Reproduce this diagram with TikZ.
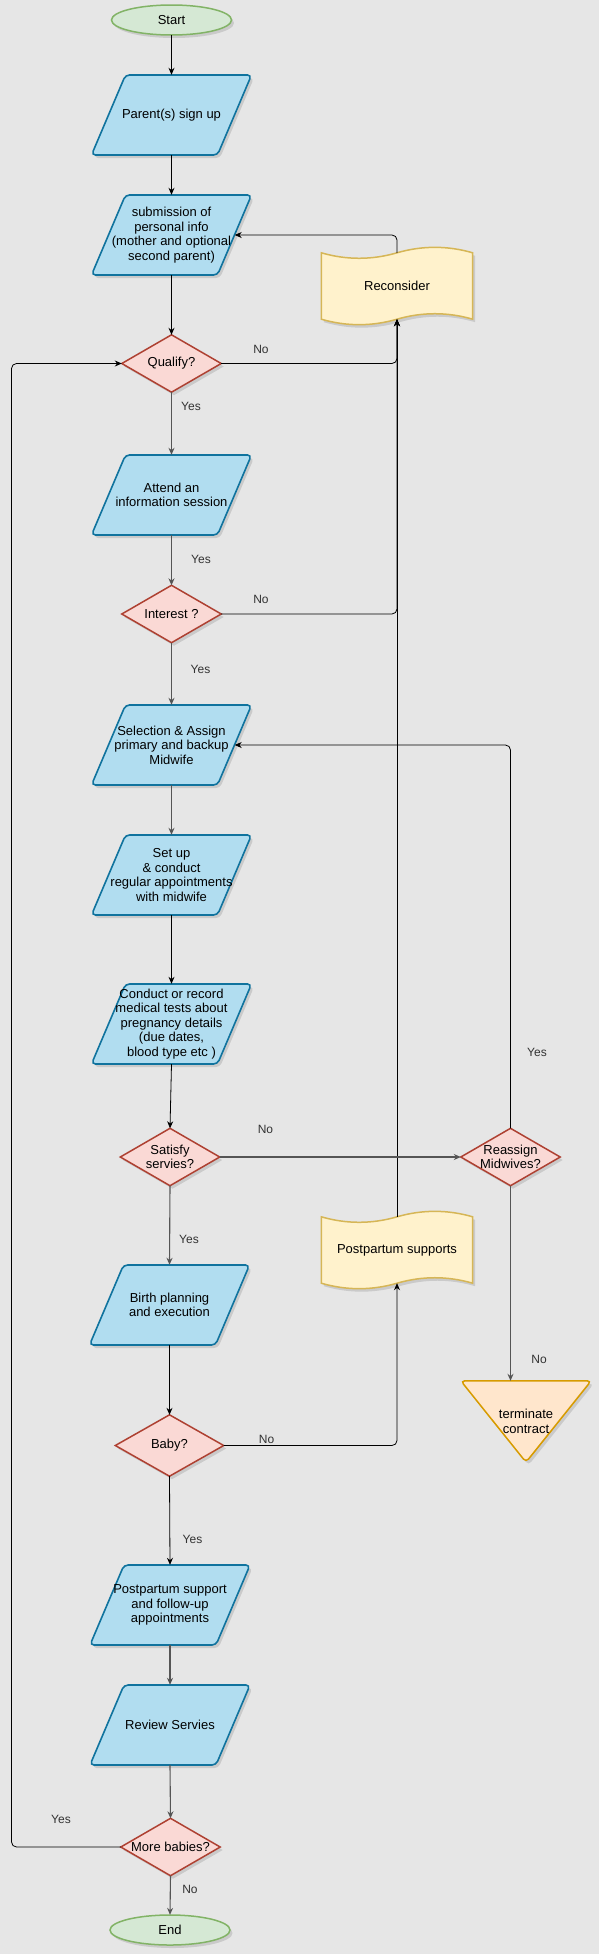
\documentclass[tikz,border=0pt]{standalone}
\usepackage{fontspec}
\setmainfont{Liberation Sans}
\usetikzlibrary{calc,arrows.meta}
\pgfdeclarelayer{back}
\pgfdeclarelayer{shapes}
\pgfsetlayers{back,shapes,main}
\definecolor{bgcol}{HTML}{E6E6E6}
\definecolor{pfill}{HTML}{B1DDF0}
\definecolor{pdraw}{HTML}{10739E}
\definecolor{dfill}{HTML}{FAD9D5}
\definecolor{ddraw}{HTML}{AE4132}
\definecolor{efill}{HTML}{D5E8D4}
\definecolor{edraw}{HTML}{82B366}
\definecolor{tfill}{HTML}{FFF2CC}
\definecolor{tdraw}{HTML}{D6B656}
\definecolor{trfill}{HTML}{FFE6CC}
\definecolor{trdraw}{HTML}{D79B00}
\definecolor{lblcol}{HTML}{333333}
\definecolor{cgray}{HTML}{555555}
\tikzset{
  txt/.style={font=\fontsize{13}{14.5}\selectfont, align=center, text=black, inner sep=0pt},
  para/.style={txt, minimum width=126pt, minimum height=80pt},
  dia/.style={txt, minimum width=99pt, minimum height=57pt},
  ell/.style={txt, minimum width=120pt, minimum height=30pt},
  tape/.style={txt, minimum width=151pt, minimum height=66pt},
  tri/.style={txt, minimum width=130pt, minimum height=81pt},
  lab/.style={font=\fontsize{12}{14}\selectfont, text=lblcol, inner sep=0pt},
  shadowc/.style={fill=black, fill opacity=0.12, transform canvas={xshift=2.5pt,yshift=-3pt}},
  parasty/.style={draw=pdraw, fill=pfill, line width=1.6pt},
  diasty/.style={draw=ddraw, fill=dfill, line width=1.5pt},
  ellsty/.style={draw=edraw, fill=efill, line width=1.5pt},
  tapesty/.style={draw=tdraw, fill=tfill, line width=1.5pt},
  tristy/.style={draw=trdraw, fill=trfill, line width=1.5pt},
  conn/.style={draw=black, line width=0.8pt, -{Stealth[length=7pt,width=6pt]}, rounded corners=5pt},
  conng/.style={conn, draw=cgray, line width=1.1pt},
}
\newcommand\parapath[2]{\path[#2, rounded corners=4pt] ($(#1.center)+(-46,-40)$) -- ($(#1.center)+(80,-40)$) -- ($(#1.center)+(46,40)$) -- ($(#1.center)+(-80,40)$) -- cycle;}
\newcommand\drawpara[1]{\begin{pgfonlayer}{shapes}\parapath{#1}{shadowc}\parapath{#1}{parasty}\end{pgfonlayer}}
\newcommand\diapath[2]{\path[#2] (#1.north) -- (#1.east) -- (#1.south) -- (#1.west) -- cycle;}
\newcommand\drawdia[1]{\begin{pgfonlayer}{shapes}\diapath{#1}{shadowc}\diapath{#1}{diasty}\end{pgfonlayer}}
\newcommand\ellpath[2]{\path[#2] (#1.center) ellipse [x radius=60pt, y radius=15pt];}
\newcommand\drawell[1]{\begin{pgfonlayer}{shapes}\ellpath{#1}{shadowc}\ellpath{#1}{ellsty}\end{pgfonlayer}}
\newcommand\tapepath[2]{\path[#2] (#1.north west) .. controls +(25.2,7.3) and ($(#1.north)+(-25.2,7.3)$) .. (#1.north) .. controls +(25.2,-7.3) and ($(#1.north east)+(-25.2,-7.3)$) .. (#1.north east) -- (#1.south east) .. controls +(-25.2,-7.3) and ($(#1.south)+(25.2,-7.3)$) .. (#1.south) .. controls +(-25.2,7.3) and ($(#1.south west)+(25.2,7.3)$) .. (#1.south west) -- cycle;}
\newcommand\drawtape[1]{\begin{pgfonlayer}{shapes}\tapepath{#1}{shadowc}\tapepath{#1}{tapesty}\end{pgfonlayer}}
\newcommand\tripath[2]{\path[#2, rounded corners=4pt] (#1.north west) -- (#1.north east) -- (#1.south) -- cycle;}
\newcommand\drawtri[1]{\begin{pgfonlayer}{shapes}\tripath{#1}{shadowc}\tripath{#1}{tristy}\end{pgfonlayer}}
\begin{document}
\begin{tikzpicture}[x=1pt,y=-1pt]
\begin{pgfonlayer}{back}
\fill[bgcol] (0,0) rectangle (599,1954);
\end{pgfonlayer}
\useasboundingbox (0,0) rectangle (599,1954);

% nodes
\node[ell] (start) at (171.5,20) {Start};
\node[para] (p1) at (171.5,115) {Parent(s) sign up};
\node[para] (p2) at (171.5,235) {submission of\\personal info\\(mother and optional\\second parent)};
\node[dia] (q) at (171.5,363.5) {Qualify?};
\node[para] (att) at (171.5,495) {Attend an\\information session};
\node[dia] (int) at (171.5,614) {Interest ?};
\node[para] (sel) at (171.5,745) {Selection \& Assign\\primary and backup\\Midwife};
\node[para] (setup) at (171.5,875) {Set up\\\& conduct\\regular appointments\\with midwife};
\node[para] (cond) at (171.5,1024) {Conduct or record\\medical tests about\\pregnancy details\\(due dates,\\blood type etc )};
\node[dia] (sat) at (170,1157) {Satisfy\\servies?};
\node[dia] (reas) at (510.5,1157) {Reassign\\Midwives?};
\node[para] (birth) at (169.5,1305) {Birth planning\\and execution};
\node[dia, minimum width=108pt, minimum height=61pt] (baby) at (169.5,1445.5) {Baby?};
\node[para] (pp) at (170,1605) {Postpartum support\\and follow-up\\appointments};
\node[para] (rev) at (170,1725) {Review Servies};
\node[dia] (more) at (170.5,1847) {More babies?};
\node[ell] (end) at (170,1930) {End};
\node[tape] (recon) at (397,286) {Reconsider};
\node[tape] (pps) at (397,1250) {Postpartum supports};
\node[tri] (term) at (526,1421.5) {terminate\\contract};

% shapes
\drawell{start}\drawell{end}
\drawpara{p1}\drawpara{p2}\drawpara{att}\drawpara{sel}\drawpara{setup}\drawpara{cond}\drawpara{birth}\drawpara{pp}\drawpara{rev}
\drawdia{q}\drawdia{int}\drawdia{sat}\drawdia{reas}\drawdia{baby}\drawdia{more}
\drawtape{recon}\drawtape{pps}
\drawtri{term}

% connectors
\draw[conn] (start.south) -- (p1.north);
\draw[conn] (p1.south) -- (p2.north);
\draw[conn] (p2.south) -- (q.north);
\draw[conng] (q.south) -- (att.north);
\draw[conng] (att.south) -- (int.north);
\draw[conng] (int.south) -- (sel.north);
\draw[conng] (sel.south) -- (setup.north);
\draw[conn] (setup.south) -- (cond.north);
\draw[conn] (cond.south) -- (sat.north);
\draw[conng] (sat.south) -- (birth.north);
\draw[conn] (birth.south) -- (baby.north);
\draw[conn] (baby.south) -- (pp.north);
\draw[conng] (pp.south) -- (rev.north);
\draw[conng] (rev.south) -- (more.north);
\draw[conng] (more.south) -- (end.north);
\coordinate (lx) at (11.5,1000);
\draw[conn] (more.west) -- (more.west -| lx) -- (q.west -| lx) -- (q.west);
\draw[conn] (q.east) -| (recon.south);
\draw[conn] (int.east) -| (recon.south);
\draw[conn] (pps.north) -- (recon.south);
\draw[conn] (recon.north) |- (p2.east);
\draw[conng] (sat.east) -- (reas.west);
\draw[conn] (reas.north) |- (sel.east);
\draw[conng] (reas.south) -- (reas.south |- term.north);
\draw[conn] (baby.east) -| (pps.south);

% labels
\node[lab] (l1) at (191,406) {Yes};
\node[lab] (l2) at (201,559) {Yes};
\node[lab] (l3) at (200.5,669) {Yes};
\node[lab] (l4) at (189,1239) {Yes};
\node[lab] (l5) at (192.5,1539) {Yes};
\node[lab] (l6) at (61,1819) {Yes};
\node[lab] (l7) at (537,1052) {Yes};
\node[lab] (n1) at (261,349) {No};
\node[lab] (n2) at (261,599) {No};
\node[lab] (n3) at (265.5,1129) {No};
\node[lab] (n4) at (266.6,1439) {No};
\node[lab] (n5) at (539,1359) {No};
\node[lab] (n6) at (190,1889) {No};
\end{tikzpicture}
\end{document}
